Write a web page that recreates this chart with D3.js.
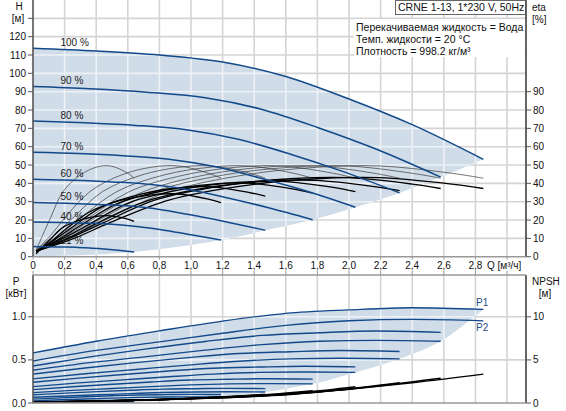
<!DOCTYPE html>
<html>
<head>
<meta charset="utf-8">
<script src="https://cdn.jsdelivr.net/npm/d3@7"></script>
<style>
  body { margin: 0; background: #fff; }
  svg { display: block; font-family: "Liberation Sans", Arial, sans-serif; }
</style>
</head>
<body>
<svg id="chart" width="566" height="411"></svg>
<script>
// ---- pump curve data (CRNE 1-13) ----
const speedLabels = ['100 %', '90 %', '80 %', '70 %', '60 %', '50 %', '40 %', '21 %'];

// Q [m3/h] points of each speed curve (QH, P1, P2, NPSH share them)
const flowQ = [
  [0, 0.40, 0.80, 1.20, 1.60, 2.00, 2.40, 2.85],
  [0, 0.36, 0.72, 1.09, 1.45, 1.81, 2.17, 2.58],
  [0, 0.33, 0.65, 0.98, 1.30, 1.63, 1.95, 2.32],
  [0, 0.29, 0.57, 0.86, 1.14, 1.43, 1.72, 2.04],
  [0, 0.25, 0.50, 0.75, 0.99, 1.24, 1.49, 1.77],
  [0, 0.21, 0.41, 0.62, 0.82, 1.03, 1.24, 1.47],
  [0, 0.17, 0.33, 0.50, 0.67, 0.84, 1.00, 1.19],
  [0, 0.09, 0.18, 0.27, 0.36, 0.45, 0.54, 0.64]
];
const headH = [
  [113.7, 112.2, 110.0, 106.2, 98.3, 86.0, 72.0, 53.1],
  [92.8, 91.6, 89.7, 86.7, 80.3, 70.2, 58.7, 43.4],
  [74.0, 73.0, 71.6, 69.1, 64.0, 55.9, 46.8, 34.8],
  [57.0, 56.3, 55.1, 53.2, 49.3, 43.1, 36.1, 27.0],
  [42.2, 41.7, 40.8, 39.4, 36.5, 31.9, 26.7, 20.2],
  [29.5, 29.1, 28.5, 27.6, 25.5, 22.3, 18.7, 14.4],
  [18.9, 18.7, 18.3, 17.7, 16.3, 14.3, 12.0, 9.1],
  [5.5, 5.4, 5.3, 5.1, 4.8, 4.2, 3.5, 2.6]
];

// efficiency curves: Q points, pump (thin) and total (thick) eta [%]
const etaQ = [
  [0.02, 0.26, 0.48, 0.86, 1.34, 1.80, 2.19, 2.65, 2.85],
  [0.02, 0.23, 0.44, 0.77, 1.21, 1.63, 1.99, 2.40, 2.58],
  [0.02, 0.21, 0.39, 0.70, 1.09, 1.46, 1.79, 2.16, 2.32],
  [0.02, 0.18, 0.35, 0.61, 0.96, 1.29, 1.57, 1.90, 2.04],
  [0.02, 0.16, 0.30, 0.53, 0.83, 1.12, 1.36, 1.65, 1.77],
  [0.02, 0.13, 0.25, 0.44, 0.69, 0.93, 1.13, 1.37, 1.47],
  [0.02, 0.11, 0.20, 0.36, 0.56, 0.75, 0.92, 1.11, 1.19],
  [0.02, 0.06, 0.11, 0.19, 0.30, 0.40, 0.49, 0.60, 0.64]
];
const etaPump = [3.5, 11.5, 21, 35.5, 44.6, 48.8, 49.5, 45.5, 42.8];
const etaTotal = [
  [3.0, 10.0, 18.3, 30.9, 38.8, 42.5, 43.1, 39.6, 37.2],
  [3.0, 10.0, 18.3, 30.9, 38.8, 42.5, 43.1, 39.6, 37.2],
  [2.9, 9.7, 17.6, 29.8, 37.5, 41.0, 41.6, 38.2, 36.0],
  [2.9, 9.5, 17.4, 29.5, 37.0, 40.5, 41.1, 37.8, 35.5],
  [2.8, 9.3, 17.0, 28.8, 36.1, 39.5, 40.1, 36.9, 34.7],
  [2.7, 8.9, 16.2, 27.3, 34.3, 37.6, 38.1, 35.0, 33.0],
  [2.4, 7.9, 14.5, 24.5, 30.8, 33.7, 34.2, 31.4, 29.5],
  [1.6, 5.2, 9.5, 16.0, 20.1, 22.0, 22.3, 20.5, 19.3]
];

// power [kW]: P1 input, P2 shaft
const powerP1 = [
  [0.581, 0.717, 0.837, 0.950, 1.040, 1.080, 1.105, 1.086],
  [0.430, 0.535, 0.628, 0.714, 0.784, 0.815, 0.835, 0.819],
  [0.335, 0.406, 0.469, 0.527, 0.574, 0.595, 0.609, 0.598],
  [0.240, 0.288, 0.331, 0.371, 0.403, 0.417, 0.426, 0.419],
  [0.155, 0.188, 0.217, 0.244, 0.266, 0.276, 0.282, 0.277],
  [0.095, 0.114, 0.132, 0.148, 0.161, 0.166, 0.170, 0.167],
  [0.045, 0.059, 0.072, 0.084, 0.093, 0.097, 0.100, 0.098],
  [0.012, 0.017, 0.021, 0.025, 0.028, 0.030, 0.031, 0.030]
];
const powerP2 = [
  [0.488, 0.610, 0.709, 0.810, 0.900, 0.955, 0.970, 0.953],
  [0.380, 0.468, 0.538, 0.613, 0.677, 0.717, 0.727, 0.717],
  [0.280, 0.340, 0.389, 0.440, 0.484, 0.512, 0.519, 0.512],
  [0.190, 0.233, 0.268, 0.304, 0.335, 0.355, 0.360, 0.355],
  [0.120, 0.147, 0.168, 0.190, 0.210, 0.222, 0.225, 0.222],
  [0.066, 0.082, 0.095, 0.109, 0.121, 0.128, 0.130, 0.128],
  [0.025, 0.037, 0.046, 0.056, 0.065, 0.070, 0.071, 0.070],
  [0.004, 0.006, 0.008, 0.010, 0.011, 0.012, 0.012, 0.012]
];
// NPSH [m]
const npshR = [
  [0.10, 0.20, 0.38, 0.62, 0.95, 1.60, 2.35, 3.35],
  [0.10, 0.19, 0.34, 0.55, 0.82, 1.30, 1.95, 2.88],
  [0.10, 0.18, 0.31, 0.48, 0.72, 1.05, 1.55, 2.36],
  [0.10, 0.17, 0.28, 0.42, 0.60, 0.88, 1.25, 1.89],
  [0.10, 0.16, 0.26, 0.38, 0.52, 0.72, 0.98, 1.42],
  [0.10, 0.15, 0.22, 0.31, 0.42, 0.56, 0.74, 1.00],
  [0.10, 0.14, 0.19, 0.26, 0.34, 0.43, 0.54, 0.68],
  [0.08, 0.10, 0.12, 0.14, 0.16, 0.18, 0.21, 0.25]
];

// axes / ticks
const qTicks = [0, 0.2, 0.4, 0.6, 0.8, 1.0, 1.2, 1.4, 1.6, 1.8, 2.0, 2.2, 2.4, 2.6, 2.8];
const qTickLabels = ['0', '0,2', '0,4', '0,6', '0,8', '1,0', '1,2', '1,4', '1,6', '1,8', '2,0', '2,2', '2,4', '2,6', '2,8'];
const gridQ = [0.2, 0.4, 0.6, 0.8, 1.0, 1.2, 1.4, 1.6, 1.8, 2.0, 2.2, 2.4, 2.6, 2.8, 3.0];
const hTicks = [0, 10, 20, 30, 40, 50, 60, 70, 80, 90, 100, 110, 120];
const gridH = [10, 20, 30, 40, 50, 60, 70, 80, 90, 100, 110, 120, 130];
const etaTicks = [0, 10, 20, 30, 40, 50, 60, 70, 80, 90];
const pTicks = [0, 0.5, 1.0];
const npshTicks = [0, 5, 10];
const infoLines = ['Перекачиваемая жидкость = Вода', 'Темп. жидкости = 20 °C', 'Плотность = 998.2 кг/м³'];

// ---- drawing ----
const svg = d3.select('#chart');
const x = d3.scaleLinear().domain([0, 3.12]).range([33, 526]);
const yH = d3.scaleLinear().domain([0, 140]).range([256.7, 0]);
const yP = d3.scaleLinear().domain([0, 1.485]).range([403, 275]);
const yN = d3.scaleLinear().domain([0, 14.85]).range([403, 275]);

const BLUE = '#12498a', FILL = '#d0dce8', GRID = '#d4d4d4', AXIS = '#555';
const zip = (qs, vs) => qs.map((q, i) => [q, vs[i]]);
const last = a => a[a.length - 1];

const lineOf = y => d3.line().x(d => x(d[0])).y(d => y(d[1])).curve(d3.curveMonotoneX);
const edgeOf = y => d3.line().x(d => x(d[0])).y(d => y(d[1])).curve(d3.curveCatmullRom);
const lineH = lineOf(yH), lineP = lineOf(yP), lineN = lineOf(yN);
const lineEta = edgeOf(yH);

// operating regions (max curve on top, curve end points as lower edge)
const topEdge = flowQ.map((q, i) => [last(q), last(headH[i])]).concat([[0, 0]]);
const topRegion = `M${x(0)},${yH(0)}` + lineH(zip(flowQ[0], headH[0])).replace('M', 'L') +
  edgeOf(yH)(topEdge).replace('M', 'L') + 'Z';
const botEdge = [[last(flowQ[0]), last(powerP1[0])]]
  .concat(flowQ.slice(1).map((q, i) => [last(q), last(powerP2[i + 1])])).concat([[0, 0]]);
const botRegion = `M${x(0)},${yP(0)}` + lineP(zip(flowQ[0], powerP1[0])).replace('M', 'L') +
  edgeOf(yP)(botEdge).replace('M', 'L') + 'Z';

const defs = svg.append('defs');
defs.append('clipPath').attr('id', 'clipTop').append('path').attr('d', topRegion);
defs.append('clipPath').attr('id', 'clipBot').append('path').attr('d', botRegion);

function drawGrid(g, color) {
  g.selectAll('line.gq').data(gridQ).join('line').attr('class', 'gq')
    .attr('x1', d => x(d)).attr('x2', d => x(d)).attr('y1', yH(140)).attr('y2', yH(0));
  g.selectAll('line.gh').data(gridH).join('line').attr('class', 'gh')
    .attr('x1', x(0)).attr('x2', 526).attr('y1', d => yH(d)).attr('y2', d => yH(d));
  g.selectAll('line.bq').data(gridQ).join('line').attr('class', 'bq')
    .attr('x1', d => x(d)).attr('x2', d => x(d)).attr('y1', 275).attr('y2', yP(0));
  g.selectAll('line.bp').data(pTicks.slice(1)).join('line').attr('class', 'bp')
    .attr('x1', x(0)).attr('x2', 526).attr('y1', d => yP(d)).attr('y2', d => yP(d));
  g.attr('stroke', color).attr('stroke-width', 1.6);
}

drawGrid(svg.append('g'), GRID);
svg.append('path').attr('d', topRegion).attr('fill', FILL);
svg.append('path').attr('d', botRegion).attr('fill', FILL);
drawGrid(svg.append('g').attr('clip-path', 'url(#clipTop)'), '#eef2f7');
drawGrid(svg.append('g').attr('clip-path', 'url(#clipBot)'), '#eef2f7');

// info box
svg.append('rect').attr('x', 354).attr('y', 19).attr('width', 171).attr('height', 38).attr('fill', '#fff');
svg.append('g').selectAll('text').data(infoLines).join('text')
  .attr('x', 356).attr('y', (d, i) => 31 + i * 12.2)
  .attr('font-size', 10.5).attr('fill', '#111').text(d => d);

// title box
svg.append('rect').attr('x', 395.5).attr('y', 0.5).attr('width', 130).attr('height', 14)
  .attr('fill', '#fff').attr('stroke', '#666');
svg.append('text').attr('x', 398).attr('y', 11).attr('font-size', 10.5).attr('fill', '#111')
  .text('CRNE 1-13, 1*230 V, 50Hz');

// efficiency curves
const etaG = svg.append('g').attr('fill', 'none');
etaG.selectAll('path.pump').data(etaQ).join('path').attr('class', 'pump')
  .attr('d', q => lineEta(zip(q, etaPump))).attr('stroke', '#333').attr('stroke-width', 0.8).attr('stroke-opacity', 0.85);
etaG.selectAll('path.tot').data(etaQ).join('path').attr('class', 'tot')
  .attr('d', (q, i) => lineEta(zip(q, etaTotal[i]))).attr('stroke', '#000').attr('stroke-width', 1.3);

// QH curves
svg.append('g').attr('fill', 'none').selectAll('path').data(flowQ).join('path')
  .attr('d', (q, i) => lineH(zip(q, headH[i]))).attr('stroke', BLUE).attr('stroke-width', 1.5);

// power curves
const pG = svg.append('g').attr('fill', 'none').attr('stroke', BLUE).attr('stroke-width', 1.4);
pG.selectAll('path.p2').data(flowQ).join('path').attr('class', 'p2')
  .attr('d', (q, i) => lineP(zip(q, powerP2[i])));
pG.selectAll('path.p1').data(flowQ).join('path').attr('class', 'p1')
  .attr('d', (q, i) => lineP(zip(q, powerP1[i])));

// NPSH curves
svg.append('g').attr('fill', 'none').selectAll('path').data(flowQ).join('path')
  .attr('d', (q, i) => lineN(zip(q, npshR[i]))).attr('stroke', '#000').attr('stroke-width', 1.5);

svg.append('text').attr('x', 476).attr('y', yP(last(powerP1[0])) - 3)
  .attr('font-size', 10).attr('fill', '#1f4f86').text('P1');
svg.append('text').attr('x', 476).attr('y', yP(last(powerP2[0])) + 10)
  .attr('font-size', 10).attr('fill', '#1f4f86').text('P2');

// speed labels on top of the curves
svg.append('g').selectAll('text').data(speedLabels).join('text')
  .attr('x', x(0.174)).attr('y', (d, i) => yH(headH[i][0]) - 2.5)
  .attr('font-size', 10).attr('fill', '#222').text(d => d);

// axes
const ax = svg.append('g').attr('font-size', 10).attr('fill', '#111');
ax.append('line').attr('x1', x(0)).attr('x2', x(0)).attr('y1', 0).attr('y2', yH(0)).attr('stroke', AXIS).attr('stroke-width', 1.6);
ax.append('line').attr('x1', 526).attr('x2', 526).attr('y1', 0).attr('y2', yH(0)).attr('stroke', AXIS).attr('stroke-width', 1.8);
ax.append('line').attr('x1', x(0)).attr('x2', 526).attr('y1', yH(0)).attr('y2', yH(0)).attr('stroke', '#999').attr('stroke-width', 1.6);
ax.append('line').attr('x1', x(0)).attr('x2', x(0)).attr('y1', 275).attr('y2', yP(0)).attr('stroke', AXIS).attr('stroke-width', 1.6);
ax.append('line').attr('x1', 526).attr('x2', 526).attr('y1', 275).attr('y2', yP(0)).attr('stroke', AXIS).attr('stroke-width', 1.8);
ax.append('line').attr('x1', x(0)).attr('x2', 526).attr('y1', 275).attr('y2', 275).attr('stroke', '#999').attr('stroke-width', 1.6);
ax.append('line').attr('x1', x(0)).attr('x2', 526).attr('y1', yP(0)).attr('y2', yP(0)).attr('stroke', '#999').attr('stroke-width', 1.6);

// H ticks
ax.selectAll('line.th').data(gridH.concat([0])).join('line').attr('class', 'th')
  .attr('x1', x(0) - 5).attr('x2', x(0)).attr('y1', d => yH(d)).attr('y2', d => yH(d)).attr('stroke', AXIS);
ax.selectAll('text.th').data(hTicks).join('text').attr('class', 'th')
  .attr('x', x(0) - 7).attr('y', d => yH(d) + 3.5).attr('text-anchor', 'end').text(d => d);
// eta ticks
ax.selectAll('line.te').data(etaTicks).join('line').attr('class', 'te')
  .attr('x1', 526).attr('x2', 531).attr('y1', d => yH(d)).attr('y2', d => yH(d)).attr('stroke', AXIS);
ax.selectAll('text.te').data(etaTicks).join('text').attr('class', 'te')
  .attr('x', 533).attr('y', d => yH(d) + 3.5).text(d => d);
// Q ticks
ax.selectAll('line.tq').data([0].concat(gridQ)).join('line').attr('class', 'tq')
  .attr('x1', d => x(d)).attr('x2', d => x(d)).attr('y1', yH(0)).attr('y2', yH(0) + 3).attr('stroke', '#999');
ax.selectAll('line.tq2').data([0].concat(gridQ)).join('line').attr('class', 'tq2')
  .attr('x1', d => x(d)).attr('x2', d => x(d)).attr('y1', 271).attr('y2', 275).attr('stroke', '#999');
ax.selectAll('text.tq').data(qTicks).join('text').attr('class', 'tq')
  .attr('x', d => x(d)).attr('y', 269).attr('text-anchor', 'middle').text((d, i) => qTickLabels[i]);
ax.append('text').attr('x', 487).attr('y', 269).text('Q [м³/ч]');
// P / NPSH ticks
ax.selectAll('line.tp').data(pTicks).join('line').attr('class', 'tp')
  .attr('x1', x(0) - 5).attr('x2', x(0)).attr('y1', d => yP(d)).attr('y2', d => yP(d)).attr('stroke', AXIS);
ax.selectAll('text.tp').data(pTicks).join('text').attr('class', 'tp')
  .attr('x', x(0) - 7).attr('y', d => yP(d) + 3.5).attr('text-anchor', 'end').text(d => d.toFixed(1));
ax.selectAll('line.tn').data(npshTicks).join('line').attr('class', 'tn')
  .attr('x1', 526).attr('x2', 531).attr('y1', d => yN(d)).attr('y2', d => yN(d)).attr('stroke', AXIS);
ax.selectAll('text.tn').data(npshTicks).join('text').attr('class', 'tn')
  .attr('x', 533).attr('y', d => yN(d) + 3.5).text(d => d);

// axis titles
ax.append('text').attr('x', 19).attr('y', 10).attr('text-anchor', 'middle').text('H');
ax.append('text').attr('x', 18).attr('y', 22).attr('text-anchor', 'middle').text('[м]');
ax.append('text').attr('x', 532).attr('y', 11).text('eta');
ax.append('text').attr('x', 532).attr('y', 23).text('[%]');
ax.append('text').attr('x', 16).attr('y', 285).attr('text-anchor', 'middle').text('P');
ax.append('text').attr('x', 16).attr('y', 297).attr('text-anchor', 'middle').text('[кВт]');
ax.append('text').attr('x', 532).attr('y', 285).text('NPSH');
ax.append('text').attr('x', 545).attr('y', 297).attr('text-anchor', 'middle').text('[м]');
</script>
</body>
</html>
